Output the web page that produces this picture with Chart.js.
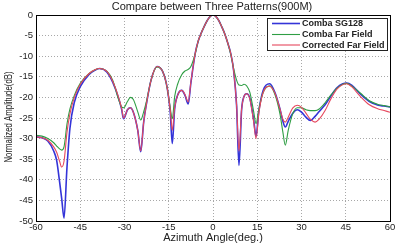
<!DOCTYPE html>
<html><head><meta charset="utf-8">
<script src="https://cdn.jsdelivr.net/npm/chart.js@4/dist/chart.umd.min.js"></script>
<style>html,body{margin:0;padding:0;background:#fff}#wrap{width:400px;height:244px}</style>
</head><body><div id="wrap"><canvas id="c" width="400" height="244"></canvas></div>
<script>
const angles = [-60,-58,-56,-54,-53,-52,-51.3,-50.5,-49.5,-48.5,-47,-45,-42,-40,-38.5,-36,-34,-32,-31,-30.3,-29,-28,-27,-25.5,-24.5,-23.5,-22.5,-21,-19,-17,-15.5,-14.5,-13.8,-13,-12,-10.6,-9.5,-8.4,-7.5,-6,-5,-4,-3,-2,-1,0,1,2,3,4,5,6,7,8,8.8,9.7,10.5,11.4,12.5,13.8,14.6,15.5,17,19.2,21,22.7,23.7,24.5,25.5,27,28.6,30,31.5,33,34.6,36,38,40,42,44,45.3,47,50,53,56,58,60];
const combaSG128 = [-29.6,-29.8,-30.6,-33.0,-35.3,-40.5,-44.5,-49.3,-37,-27.5,-21.2,-17.4,-14.4,-13.4,-13.0,-13.8,-16.3,-20.2,-22.8,-25.2,-23.0,-22.5,-23.6,-28,-33.2,-26,-21.3,-15.8,-12.5,-13.8,-17.8,-23.5,-31.2,-22.8,-19.5,-18.3,-19.5,-21.6,-16.5,-9.2,-6.3,-4.4,-2.8,-1.4,-0.4,0,-0.4,-1.4,-2.9,-4.6,-6.8,-9.3,-13.5,-22,-36.5,-23,-19.8,-19.1,-20.2,-25.5,-29.5,-23.5,-18.3,-16.7,-18.8,-22.8,-25.8,-27.2,-25.8,-23.9,-23.0,-23.6,-24.8,-25.6,-24.6,-23.4,-21.8,-19.6,-17.7,-16.7,-16.5,-17,-19.2,-21,-21.9,-22.1,-22.3];
const combaFarField = [-29.2,-29.4,-30.0,-31.0,-31.8,-32.5,-32.8,-32.0,-26.5,-22.8,-19.5,-16.6,-14.2,-13.3,-13.0,-13.6,-15.8,-20.5,-22.3,-22.5,-21.0,-20.0,-20.5,-23.5,-25.5,-23.5,-20.8,-15.8,-12.6,-13.8,-17.8,-22.5,-25.2,-19.8,-16.8,-14.5,-13.6,-13.2,-12.5,-9.3,-6.3,-4.4,-2.8,-1.4,-0.4,0,-0.4,-1.4,-2.9,-4.6,-6.8,-9.5,-13.0,-15.8,-17.0,-17.1,-16.8,-17.2,-18.8,-23.5,-26.4,-23.0,-18.8,-17.2,-19.3,-24,-28.5,-31.6,-28,-24,-22.5,-22.5,-23.0,-23.2,-23.2,-22.8,-21.3,-19.4,-17.8,-16.8,-16.6,-17.2,-19.0,-20.8,-21.7,-22.0,-22.3];
const correctedFarField = [-29.6,-29.8,-30.4,-32.0,-33.3,-35.5,-36.9,-35.5,-28.5,-24.0,-20.0,-16.8,-14.2,-13.3,-13.0,-13.7,-16.1,-20.0,-22.6,-25.0,-23.0,-22.5,-23.6,-28,-33.0,-26,-21.3,-15.8,-12.5,-13.8,-17.8,-23,-28,-22.5,-19.5,-18.3,-19.3,-21.1,-16.3,-9.2,-6.3,-4.4,-2.8,-1.4,-0.4,0,-0.4,-1.4,-2.9,-4.6,-6.8,-9.3,-13.5,-22,-33,-22.8,-19.8,-19.1,-20.4,-26,-30,-24,-18.8,-17.3,-19.0,-22.8,-25.3,-26.0,-24.8,-22.6,-21.9,-22.4,-23.8,-25.3,-26.0,-25.3,-23.2,-20.3,-18.0,-16.9,-16.7,-17.4,-19.8,-21.8,-22.8,-23.2,-23.6];
const seriesNames = ['Comba SG128','Comba Far Field','Corrected Far Field'];
const xTicks = [-60,-45,-30,-15,0,15,30,45,60];
const yTicks = [0,-5,-10,-15,-20,-25,-30,-35,-40,-45,-50];
const titleText = 'Compare between Three Patterns(900M)';
const xLabel = 'Azimuth Angle(deg.)';
const yLabel = 'Normalized Amplitude(dB)';

const colors = ['#3434d8','#2f9e44','#e6485e'];
const FONT = '"Liberation Sans", Arial, sans-serif';
const pts = arr => angles.map((a,i)=>({x:a,y:arr[i]}));

const deco = {
  id:'deco',
  afterDatasetsDraw(chart){
    const {ctx, chartArea:ca} = chart;
    ctx.save();
    ctx.strokeStyle='#000'; ctx.lineWidth=1;
    ctx.strokeRect(Math.round(ca.left)+0.5, Math.round(ca.top)+0.5, Math.round(ca.right-ca.left), Math.round(ca.bottom-ca.top));
    const lx=267, ly=18, lw=120, lh=32;
    ctx.fillStyle='#fff'; ctx.fillRect(lx,ly,lw,lh);
    ctx.strokeStyle='#222'; ctx.strokeRect(lx+0.5,ly+0.5,lw,lh);
    ctx.font='bold 9px '+FONT; ctx.textBaseline='middle'; ctx.textAlign='left';
    const rows=[23.5,34.5,45];
    seriesNames.forEach((n,i)=>{
      ctx.strokeStyle=colors[i]; ctx.lineWidth= i===0?1.6:1.1;
      ctx.beginPath(); ctx.moveTo(272,rows[i]); ctx.lineTo(300,rows[i]); ctx.stroke();
      ctx.fillStyle='#222'; ctx.fillText(n,302,rows[i]+0.5);
    });
    ctx.restore();
  },
  afterDraw(chart){
    const {ctx} = chart;
    ctx.save();
    ctx.fillStyle='#222';
    ctx.font='11px '+FONT; ctx.textAlign='center'; ctx.textBaseline='middle';
    ctx.fillText(titleText, 212, 7);
    ctx.fillText(xLabel, 213, 238);
    ctx.font='10px '+FONT;
    ctx.translate(9, 117); ctx.rotate(-Math.PI/2); ctx.scale(0.78,1);
    ctx.fillText(yLabel, 0, 0);
    ctx.restore();
  }
};

new Chart(document.getElementById('c'), {
  type:'line',
  data:{datasets:[
    {label:seriesNames[0], data:pts(combaSG128), borderColor:colors[0], borderWidth:1.6, order:2},
    {label:seriesNames[1], data:pts(combaFarField), borderColor:colors[1], borderWidth:1.1, order:1},
    {label:seriesNames[2], data:pts(correctedFarField), borderColor:colors[2], borderWidth:1.1, order:0}
  ]},
  options:{
    responsive:false, animation:false, devicePixelRatio:1,
    layout:{padding:{top:15,right:10,left:0,bottom:0}},
    elements:{point:{radius:0}, line:{cubicInterpolationMode:'monotone', fill:false}},
    plugins:{legend:{display:false}, title:{display:false}, tooltip:{enabled:false}},
    scales:{
      x:{type:'linear', min:-60, max:60,
        afterFit(s){s.height=23;},
        afterBuildTicks(s){s.ticks=xTicks.map(v=>({value:v}));},
        grid:{color:'#a8a8a8', lineWidth:1, drawTicks:false},
        border:{display:false, dash:[1,2]},
        ticks:{padding:1, color:'#222', font:{family:FONT,size:9.5}, maxRotation:0, autoSkip:false}
      },
      y:{type:'linear', min:-50, max:0,
        afterFit(s){s.width=36;},
        afterBuildTicks(s){s.ticks=yTicks.map(v=>({value:v}));},
        grid:{color:'#a8a8a8', lineWidth:1, drawTicks:false},
        border:{display:false, dash:[1,2]},
        ticks:{padding:3, color:'#222', font:{family:FONT,size:9.5}, autoSkip:false}
      }
    }
  },
  plugins:[deco]
});
</script></body></html>
